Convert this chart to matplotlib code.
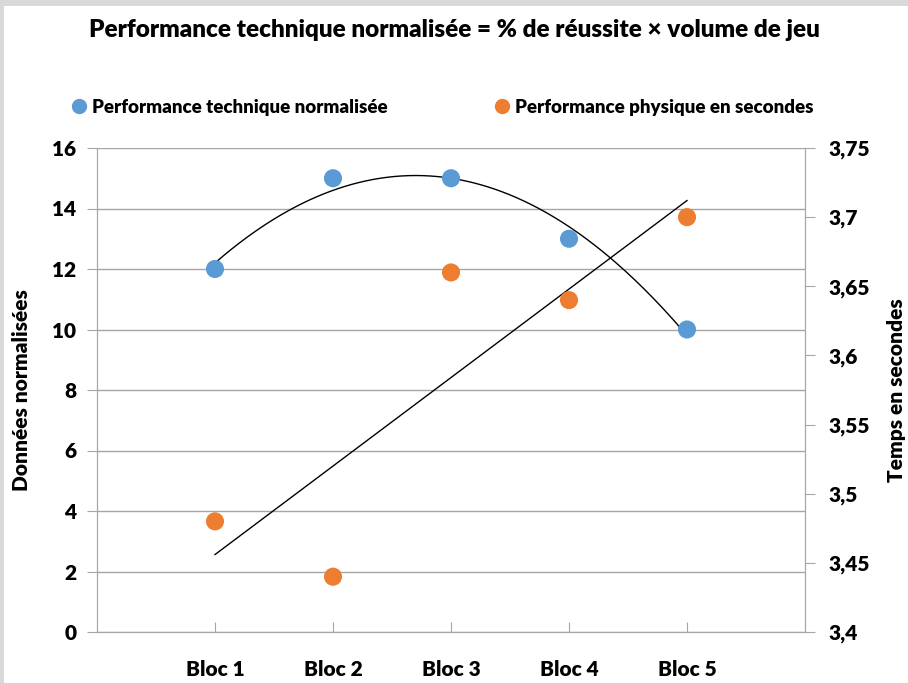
import matplotlib
matplotlib.use("Agg")
import matplotlib.pyplot as plt
import numpy as np
from matplotlib.patches import Rectangle
from matplotlib.lines import Line2D

categories = ["Bloc 1", "Bloc 2", "Bloc 3", "Bloc 4", "Bloc 5"]
tech = [12, 15, 15, 13, 10]
phys = [3.48, 3.44, 3.66, 3.64, 3.70]
left_ticks = [0, 2, 4, 6, 8, 10, 12, 14, 16]
right_ticks = [3.4, 3.45, 3.5, 3.55, 3.6, 3.65, 3.7, 3.75]
right_labels = ["3,4", "3,45", "3,5", "3,55", "3,6", "3,65", "3,7", "3,75"]

plt.rcParams['font.family'] = ['Lato', 'DejaVu Sans']
WT = 'heavy'

blue = "#5B9BD5"
orange = "#ED7D31"
grid_c = "#A6A6A6"

W, H = 908, 683
fig = plt.figure(figsize=(W/100, H/100), dpi=100)
fig.patch.set_facecolor("#D9D9D9")
fig.patches.append(Rectangle((4/W, 0), 1, 1 - 6/H, transform=fig.transFigure,
                             facecolor="white", edgecolor="none", zorder=-10))

L, R, T, B = 97, 805, 148, 632
ax = fig.add_axes([L/W, 1 - B/H, (R-L)/W, (B-T)/H])
ax.set_facecolor("none")
ax2 = ax.twinx()

x = np.arange(1, len(categories) + 1)

ax.set_xlim(0, 6)
ax.set_ylim(0, 16)
ax2.set_ylim(3.4, 3.75)

ax.set_yticks(left_ticks)
ax.set_yticklabels([str(v) for v in left_ticks], fontsize=15, fontweight=WT)
ax2.set_yticks(right_ticks)
ax2.set_yticklabels(right_labels, fontsize=15, fontweight=WT)
ax.set_xticks(x)
ax.set_xticklabels(categories, fontsize=15, fontweight=WT)

ax.grid(axis='y', color=grid_c, linewidth=1)
ax.set_axisbelow(True)
for a in (ax, ax2):
    for s in a.spines.values():
        s.set_color(grid_c)
    a.spines['top'].set_visible(False)
ax.tick_params(axis='y', length=7, color=grid_c, pad=8)
ax2.tick_params(axis='y', length=7, color=grid_c, pad=10)
ax.tick_params(axis='x', direction='in', length=7, color=grid_c, pad=20)

# trendlines
xs = np.linspace(1, 5, 200)
p2 = np.polyfit(x, tech, 2)
ax.plot(xs, np.polyval(p2, xs), color='black', linewidth=1, zorder=3)
p1 = np.polyfit(x, phys, 1)
ax2.plot(xs, np.polyval(p1, xs), color='black', linewidth=1, zorder=3)

ax.scatter(x, tech, s=170, color=blue, zorder=4, edgecolors='none')
ax2.scatter(x, phys, s=170, color=orange, zorder=4, edgecolors='none')

fig.text(22/W, 1 - 390/H, "Données normalisées", rotation=90, ha='center', va='center',
         fontsize=15, fontweight=WT)
fig.text(897/W, 1 - 390/H, "Temps en secondes", rotation=90, ha='center', va='center',
         fontsize=15, fontweight=WT)

fig.text(0.5, 1 - 30/H, "Performance technique normalisée = % de réussite × volume de jeu",
         ha='center', va='center', fontsize=17.5, fontweight=WT)

handles = [Line2D([], [], marker='o', linestyle='none', color=blue, markersize=10),
           Line2D([], [], marker='o', linestyle='none', color=orange, markersize=10)]
fig.legend(handles, ["Performance technique normalisée", "Performance physique en secondes"],
           loc='center', bbox_to_anchor=(0.485, 1 - 107/H), ncol=2, frameon=False,
           prop={'size': 13.5, 'weight': WT}, handletextpad=0.1, columnspacing=5.5,
           handlelength=1.2)

fig.savefig("out.png", dpi=100)
